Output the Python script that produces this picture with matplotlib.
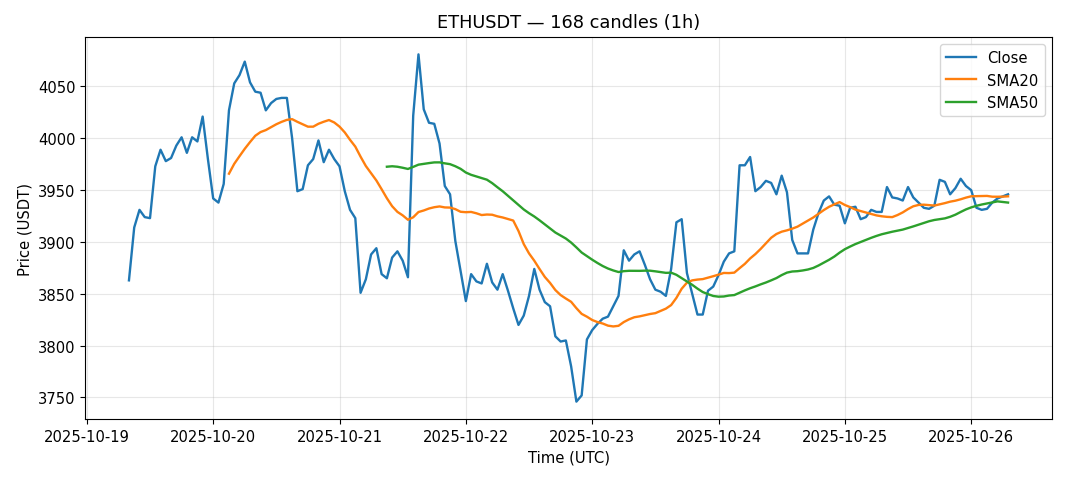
import matplotlib
matplotlib.use("Agg")
import matplotlib.pyplot as plt
import matplotlib.dates as mdates
import pandas as pd
import numpy as np

start_time = "2025-10-19 08:00"
n_candles = 168
close = [
    3863, 3914, 3931, 3924, 3923, 3973, 3989, 3978, 3981, 3993,
    4001, 3986, 4001, 3997, 4021, 3980, 3942, 3938, 3956, 4027,
    4053, 4061, 4074, 4054, 4045, 4044, 4027, 4034, 4038, 4039,
    4039, 4000, 3949, 3951, 3974, 3980, 3998, 3977, 3989, 3980,
    3973, 3949, 3931, 3923, 3851, 3864, 3888, 3894, 3869, 3865,
    3885, 3891, 3882, 3866, 4022, 4081, 4028, 4015, 4014, 3995,
    3954, 3946, 3901, 3872, 3843, 3869, 3862, 3860, 3879, 3861,
    3854, 3869, 3853, 3836, 3820, 3829, 3848, 3874, 3854, 3842,
    3838, 3809, 3804, 3805, 3780, 3746, 3752, 3806, 3815, 3821,
    3826, 3828, 3838, 3848, 3892, 3882, 3888, 3891, 3878, 3864,
    3854, 3852, 3848, 3874, 3919, 3922, 3870, 3850, 3830, 3830,
    3853, 3857, 3868, 3881, 3889, 3891, 3974, 3974, 3982, 3949,
    3953, 3959, 3957, 3946, 3964, 3948, 3902, 3889, 3889, 3889,
    3912, 3928, 3940, 3944, 3936, 3935, 3918, 3933, 3934, 3922,
    3924, 3931, 3929, 3929, 3953, 3943, 3942, 3940, 3953, 3943,
    3938, 3933, 3932, 3935, 3960, 3958, 3946, 3952, 3961, 3954,
    3950, 3933, 3931, 3932, 3938, 3942, 3944, 3946,
]
sma_windows = [20, 50]

times = pd.date_range(start_time, periods=n_candles, freq="h")
s = pd.Series(close, index=times)
sma20 = s.rolling(sma_windows[0]).mean()
sma50 = s.rolling(sma_windows[1]).mean()

fs = 10.6
fig = plt.figure(figsize=(10.68, 4.81), dpi=100)
ax = fig.add_axes([85/1068, 1-420/481, (1052-85)/1068, (420-38)/481])
ax.plot(times, s.values, color="#1f77b4", lw=1.7, label="Close")
ax.plot(times, sma20.values, color="#ff7f0e", lw=1.7, label="SMA20")
ax.plot(times, sma50.values, color="#2ca02c", lw=1.7, label="SMA50")
ax.set_title("ETHUSDT — 168 candles (1h)", fontsize=12.8, pad=7)
ax.set_xlabel("Time (UTC)", fontsize=fs)
ax.set_ylabel("Price (USDT)", fontsize=fs)
ax.grid(True, alpha=0.3)
ax.xaxis.set_major_locator(mdates.DayLocator())
ax.xaxis.set_major_formatter(mdates.DateFormatter("%Y-%m-%d"))
ax.tick_params(labelsize=fs)
ax.legend(loc="upper right", fontsize=fs)
fig.savefig("out.png", dpi=100)
